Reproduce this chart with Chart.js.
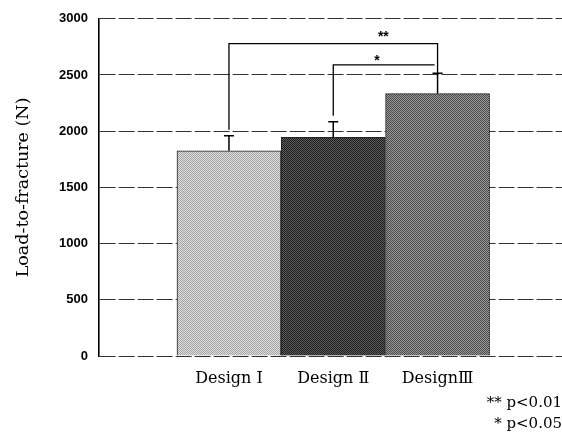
<!DOCTYPE html>
<html>
<head>
<meta charset="utf-8">
<script src="https://cdn.jsdelivr.net/npm/chart.js@4/dist/chart.umd.min.js"></script>
<style>
  html, body { margin: 0; padding: 0; background: #fff; }
  #wrap { width: 562px; height: 434px; }
</style>
</head>
<body>
<div id="wrap"><canvas id="loadChart" width="562" height="434"></canvas></div>
<script>
// data
const categories = ['Design Ⅰ', 'Design Ⅱ', 'DesignⅢ'];
const means = [1825, 1945, 2335];
const sdUpper = [135, 140, 180];
const yTicks = [0, 500, 1000, 1500, 2000, 2500, 3000];
// significance brackets: [from bar, to bar, level, mark]
const brackets = [[0, 2, 2780, '**'], [1, 2, 2590, '*']];
const footnotes = ['** p<0.01', '* p<0.05'];

// halftone-ish fills
function checker(c1, c2) {
    const p = document.createElement('canvas');
    p.width = 4; p.height = 4;
    const g = p.getContext('2d');
    g.fillStyle = c1;
    g.fillRect(0, 0, 4, 4);
    g.fillStyle = c2;
    g.fillRect(0, 0, 1, 1); g.fillRect(2, 0, 1, 1);
    g.fillRect(1, 1, 1, 1); g.fillRect(3, 1, 1, 1);
    g.fillRect(0, 2, 1, 1); g.fillRect(2, 2, 1, 1);
    g.fillRect(1, 3, 1, 1); g.fillRect(3, 3, 1, 1);
    return g.createPattern(p, 'repeat');
}
const fills = [checker('#e0e0e0', '#a2a2a2'), checker('#5e5e5e', '#1c1c1c'), checker('#9c9c9c', '#474747')];

const annotations = {
    id: 'annotations',
    afterDatasetsDraw(chart) {
        const ctx = chart.ctx;
        const xs = chart.scales.x, ys = chart.scales.y;
        ctx.save();
        ctx.strokeStyle = '#000';
        ctx.lineWidth = 1.5;

        // upper error bars
        means.forEach((m, i) => {
            const x = xs.getPixelForValue(i + 1);
            const yTop = ys.getPixelForValue(m + sdUpper[i]);
            ctx.beginPath();
            ctx.moveTo(x, ys.getPixelForValue(m));
            ctx.lineTo(x, yTop);
            ctx.moveTo(x - 5, yTop);
            ctx.lineTo(x + 5, yTop);
            ctx.stroke();
        });

        // brackets
        ctx.lineWidth = 1.3;
        brackets.forEach(([a, b, level, mark], k) => {
            const xa = xs.getPixelForValue(a + 1);
            const xb = xs.getPixelForValue(b + 1);
            const yl = ys.getPixelForValue(level);
            const ya = ys.getPixelForValue(means[a] + sdUpper[a]) - 6;
            const yb = ys.getPixelForValue(means[b] + sdUpper[b]);
            ctx.beginPath();
            ctx.moveTo(xa, ya);
            ctx.lineTo(xa, yl);
            if (k === 0) {
                ctx.lineTo(xb, yl);
                ctx.lineTo(xb, yb);
            } else {
                ctx.lineTo(xb - 3, yl);
            }
            ctx.stroke();
            ctx.fillStyle = '#000';
            ctx.font = 'bold 14px "Liberation Sans"';
            ctx.textAlign = 'center';
            ctx.textBaseline = 'middle';
            const lx = xs.getPixelForValue(k === 0 ? 2.48 : 2.42);
            ctx.fillText(mark, lx, yl - (k === 0 ? 6 : 4));
        });

        // footnotes
        ctx.font = '15px "DejaVu Serif"';
        ctx.textAlign = 'right';
        ctx.textBaseline = 'middle';
        footnotes.forEach((t, i) => ctx.fillText(t, 562, 403 + i * 21));
        ctx.restore();
    }
};

const ctx = document.getElementById('loadChart').getContext('2d');
const loadChart = new Chart(ctx, {
    type: 'bar',
    data: {
        datasets: [{
            data: means.map((m, i) => ({ x: i + 1, y: m })),
            backgroundColor: fills,
            borderColor: '#222',
            borderWidth: 1,
            barThickness: 104
        }]
    },
    options: {
        responsive: false,
        devicePixelRatio: 1,
        animation: false,
        layout: { padding: { top: 15, right: 0, left: 0, bottom: 0 } },
        plugins: {
            legend: { display: false },
            tooltip: { enabled: false }
        },
        scales: {
            x: {
                type: 'linear',
                offset: false,
                min: -0.246,
                max: 4.193,
                grid: { display: false, drawTicks: false, offset: false },
                border: { display: false },
                afterBuildTicks: (scale) => {
                    scale.ticks = categories.map((c, i) => ({ value: i + 1 }));
                },
                afterFit: (scale) => { scale.height = 78; },
                ticks: {
                    padding: 13,
                    color: '#000',
                    font: { family: '"DejaVu Serif"', size: 16 },
                    callback: (v) => categories[v - 1] || ''
                }
            },
            y: {
                min: 0,
                max: 3000,
                afterBuildTicks: (scale) => {
                    scale.ticks = yTicks.map(v => ({ value: v }));
                },
                afterFit: (scale) => { scale.width = 99; },
                grid: { color: '#333', lineWidth: 1, drawTicks: false },
                border: { display: true, color: '#000', width: 1.6, dash: [16, 3] },
                ticks: {
                    padding: 11,
                    color: '#000',
                    font: { family: '"Liberation Sans"', size: 13, weight: 'bold' },
                    callback: (v) => String(v)
                },
                title: {
                    display: true,
                    text: 'Load-to-fracture (N)',
                    color: '#000',
                    padding: { top: 13, bottom: 0 },
                    font: { family: '"DejaVu Serif"', size: 17.5 }
                }
            }
        }
    },
    plugins: [annotations]
});
</script>
</body>
</html>
